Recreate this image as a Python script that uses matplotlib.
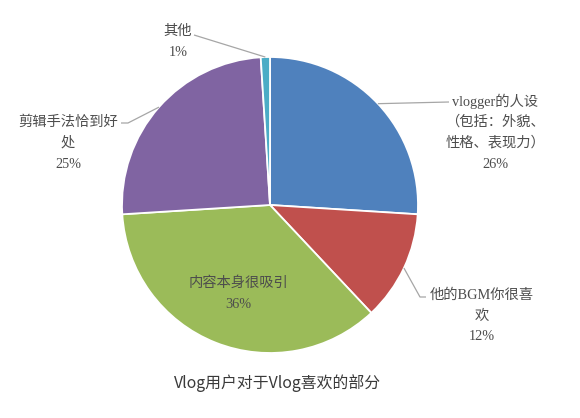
import numpy as np
import matplotlib
matplotlib.use("Agg")
import matplotlib.pyplot as plt

# ---- data ----
categories = ["vlogger的人设（包括：外貌、性格、表现力）", "他的BGM你很喜欢", "内容本身很吸引", "剪辑手法恰到好处", "其他"]
values = [26, 12, 36, 25, 1]
pct_labels = ["26%", "12%", "36%", "25%", "1%"]
label_lines = [
    ["vlogger的人设", "（包括：外貌、", "性格、表现力）"],
    ["他的BGM你很喜", "欢"],
    ["内容本身很吸引"],
    ["剪辑手法恰到好", "处"],
    ["其他"],
]
colors = ["#4F81BD", "#C0504D", "#9BBB59", "#8064A2", "#4BACC6"]
title = "Vlog用户对于Vlog喜欢的部分"

# ---- layout (pixels in a 580x418 canvas) ----
W, H = 580, 418
CX, CY, R = 270, 205, 148
# label block: (center x, first line y, leader style)
label_pos = [
    (495, 101, "right"),
    (482, 295, "bgm"),
    (238, 283, None),
    (68, 122, "left"),
    (178, 31, "top"),
]
LINE_STEP = 21

label_font = ["Liberation Serif", "Noto Sans CJK SC"]
text_color = "#4D4D4D"
leader_color = "#A6A6A6"

fig = plt.figure(figsize=(W / 100, H / 100), dpi=100)
fig.patch.set_facecolor("white")
ax = fig.add_axes([(CX - R) / W, (H - CY - R) / H, 2 * R / W, 2 * R / H])
wedges, _ = ax.pie(values, colors=colors, startangle=90, counterclock=False,
                   radius=1.0, wedgeprops=dict(edgecolor="white", linewidth=1.3))
ax.set_xlim(-1, 1)
ax.set_ylim(-1, 1)
ax.set_aspect("equal")
ax.axis("off")


def p2d(px, py):
    return (px - CX) / R, (CY - py) / R


for i, w in enumerate(wedges):
    lines = label_lines[i] + [pct_labels[i]]
    cx, y0, style = label_pos[i]
    for k, ln in enumerate(lines):
        x, y = p2d(cx, y0 + k * LINE_STEP)
        ax.text(x, y, ln, ha="center", va="center", fontsize=10.3,
                family=label_font, color=text_color, clip_on=False)
    if style is None:
        continue
    mid = np.deg2rad((w.theta1 + w.theta2) / 2)
    ex, ey = np.cos(mid), np.sin(mid)
    if style == "right":
        tx, ty = p2d(449, y0 + 1)
        xs, ys = [ex, tx], [ey, ty]
    elif style == "bgm":
        ax_, ay_ = p2d(420, y0 + 2)
        bx_, by_ = p2d(426, y0 + 2)
        xs, ys = [ex, ax_, bx_], [ey, ay_, by_]
    elif style == "left":
        ax_, ay_ = p2d(128, y0 + 1)
        bx_, by_ = p2d(121, y0 + 1)
        xs, ys = [ex, ax_, bx_], [ey, ay_, by_]
    else:
        tx, ty = p2d(194, y0 + 4)
        xs, ys = [ex, tx], [ey, ty]
    ax.plot(xs, ys, color=leader_color, lw=0.9, clip_on=False, solid_capstyle="butt")

fig.text(278 / W, 1 - 383 / H, title, ha="center", va="center", fontsize=11.4,
         family=["Noto Sans CJK SC", "DejaVu Sans"], color="#3A3A3A")

fig.savefig("out.png", dpi=100, facecolor="white")
